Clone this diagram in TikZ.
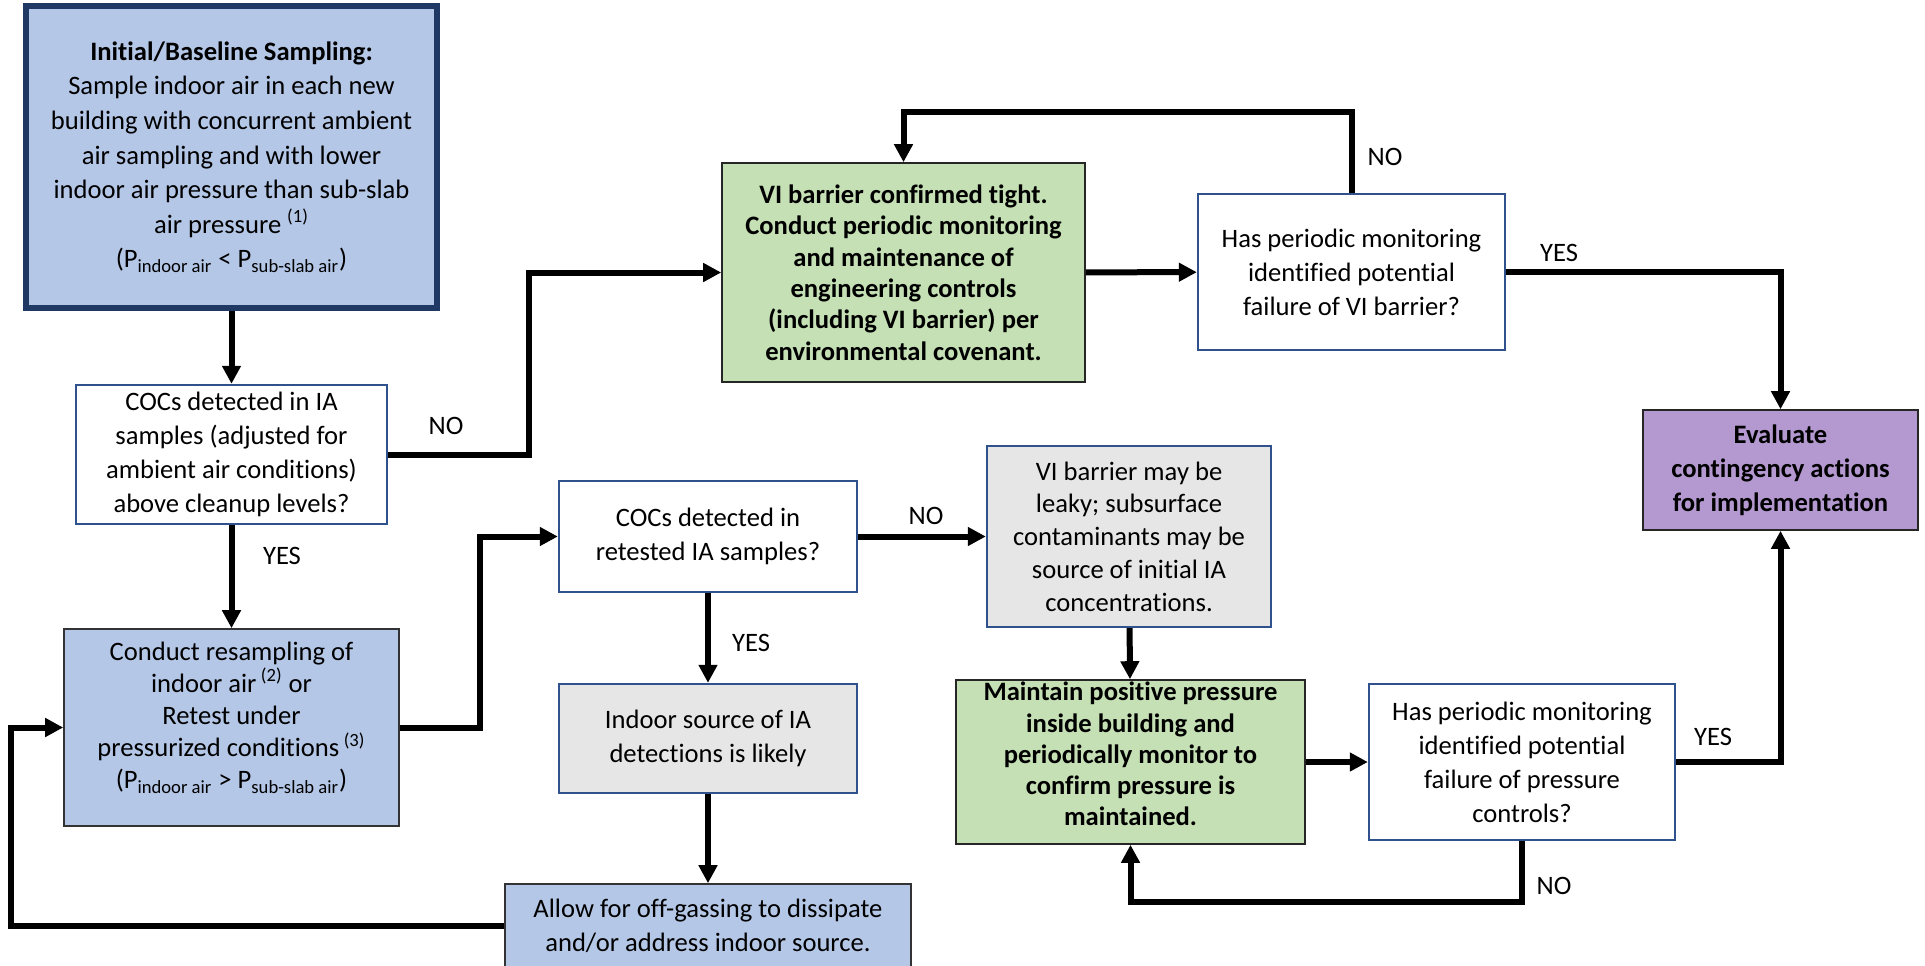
\documentclass[tikz,border=0pt]{standalone}
\usepackage{fontspec}
\setmainfont{Carlito}[Ligatures=NoCommon]
\usepackage{tikz}
\usetikzlibrary{arrows.meta}
\definecolor{boxblue}{RGB}{180,199,231}
\definecolor{boxgray}{RGB}{231,230,230}
\definecolor{boxgreen}{RGB}{197,224,180}
\definecolor{boxpurple}{RGB}{180,152,208}
\definecolor{navy}{RGB}{32,56,100}
\definecolor{edgeblue}{RGB}{47,82,143}
\tikzset{
  every node/.style={
    font=\fontsize{13.3}{17}\selectfont
  },
  box/.style n args={2}{
    shape=rectangle,
    minimum width=#1,
    minimum height=#2,
    inner sep=0pt,
    align=center,
    line width=0.8pt
  },
  baseline/.style n args={2}{
    box={#1}{#2},
    draw=navy,
    line width=3pt,
    fill=boxblue
  },
  action/.style n args={2}{
    box={#1}{#2},
    draw=black!80,
    fill=boxblue
  },
  decision/.style n args={2}{
    box={#1}{#2},
    draw=edgeblue,
    line width=1.2pt,
    fill=white
  },
  finding/.style n args={2}{
    box={#1}{#2},
    draw=edgeblue,
    line width=1.2pt,
    fill=boxgray
  },
  control/.style n args={2}{
    box={#1}{#2},
    draw=black!85,
    fill=boxgreen,
    font=\fontsize{13.3}{15.7}\selectfont\bfseries
  },
  contingency/.style n args={2}{
    box={#1}{#2},
    draw=black!85,
    fill=boxpurple,
    font=\fontsize{13.3}{17}\selectfont\bfseries
  },
  lifted/.style={
    align=center,
    inner sep=0pt,
    yshift=#1
  },
  flow/.style={
    line width=3pt,
    -{Triangle[length=9pt,width=9pt]}
  },
  answer/.style={
    inner sep=0pt
  }
}

\begin{document}
\begin{tikzpicture}[x=0.5pt,y=-0.5pt]
  \useasboundingbox (0,0) rectangle (1925,965);

  \node [baseline={205.5pt}{151pt},
    font=\fontsize{13.3}{17.3}\selectfont] (base) at (231.5,157) {
    \textbf{Initial/Baseline Sampling:}\\
    Sample indoor air in each new\\
    building with concurrent ambient\\
    air sampling and with lower\\
    indoor air pressure than sub-slab\\
    air pressure \textsuperscript{(1)}\\
    (P\textsubscript{indoor air} < P\textsubscript{sub-slab air})
  };
  \node [decision={155.5pt}{69.5pt}] (detect) at (231.5,454.5) {
    COCs detected in IA\\
    samples (adjusted for\\
    ambient air conditions)\\
    above cleanup levels?
  };
  \node [action={167.5pt}{98.5pt},
    label={[lifted=5pt, font=\fontsize{13.3}{16.1}\selectfont]center:{
    Conduct resampling of\\
    indoor air\,\textsuperscript{(2)} or\\
    Retest under\\
    pressurized conditions\,\textsuperscript{(3)}\\
    (P\textsubscript{indoor air} > P\textsubscript{sub-slab air})}}]
    (resample) at (231.5,727.5) {};
  \node [decision={149pt}{55.5pt}] (retest) at (708,536.5) {
    COCs detected in\\
    retested IA samples?
  };
  \node [finding={149pt}{54.5pt}] (indoor) at (708,738.5) {
    Indoor source of IA\\
    detections is likely
  };
  \node [action={203pt}{42pt}] (offgas) at (708,926) {
    Allow for off-gassing to dissipate\\
    and/or address indoor source.
  };
  \node [control={181.5pt}{109.5pt}] (tight) at (903.5,272.5) {
    VI barrier confirmed tight.\\
    Conduct periodic monitoring\\
    and maintenance of\\
    engineering controls\\
    (including VI barrier) per\\
    environmental covenant.
  };
  \node [decision={153.5pt}{78pt}] (barrierq) at (1351.5,272) {
    Has periodic monitoring\\
    identified potential\\
    failure of VI barrier?
  };
  \node [contingency={137.5pt}{60pt}] (evaluate) at (1780.5,470) {
    Evaluate\\
    contingency actions\\
    for implementation
  };
  \node [finding={142pt}{90.5pt}, font=\fontsize{13.3}{16.4}\selectfont]
    (leaky) at (1129,536.5) {
    VI barrier may be\\
    leaky; subsurface\\
    contaminants may be\\
    source of initial IA\\
    concentrations.
  };
  \node [control={174.5pt}{82pt},
    label={[lifted=4pt, font=\fontsize{13.3}{15.6}\selectfont\bfseries]center:{
    Maintain positive pressure\\
    inside building and\\
    periodically monitor to\\
    confirm pressure is\\
    maintained.}}]
    (pressure) at (1130.5,762) {};
  \node [decision={153pt}{78pt}] (pressureq) at (1522,762) {
    Has periodic monitoring\\
    identified potential\\
    failure of pressure\\
    controls?
  };

  \draw [flow] (base) -- (detect);
  \draw [flow] (detect) -- (resample);
  \draw [flow] (detect.east) -- ++(141,0) |- (tight.west);
  \draw [flow] (resample.east) -- ++(80,0) |- (retest.west);
  \draw [flow] (retest) -- (leaky);
  \draw [flow] (retest) -- (indoor);
  \draw [flow] (indoor) -- (offgas);
  \draw [flow] (offgas.west) -- ++(-493,0) |- (resample.west);
  \draw [flow] (tight) -- (barrierq);
  \draw [flow] (barrierq.north) -- ++(0,-81) -| (tight.north);
  \draw [flow] (barrierq.east) -| (evaluate.north);
  \draw [flow] (leaky) -- (pressure);
  \draw [flow] (pressure) -- (pressureq);
  \draw [flow] (pressureq.east) -| (evaluate.south);
  \draw [flow] (pressureq.south) -- ++(0,61) -| (pressure.south);

  \node [answer] (no1) at (446,426) {NO};
  \node [answer] (yes1) at (282,556) {YES};
  \node [answer] (no2) at (926,516) {NO};
  \node [answer] (yes2) at (751,643) {YES};
  \node [answer] (no3) at (1385,157) {NO};
  \node [answer] (yes3) at (1559,253) {YES};
  \node [answer] (yes4) at (1713,737) {YES};
  \node [answer] (no4) at (1554,886) {NO};
\end{tikzpicture}
\end{document}
